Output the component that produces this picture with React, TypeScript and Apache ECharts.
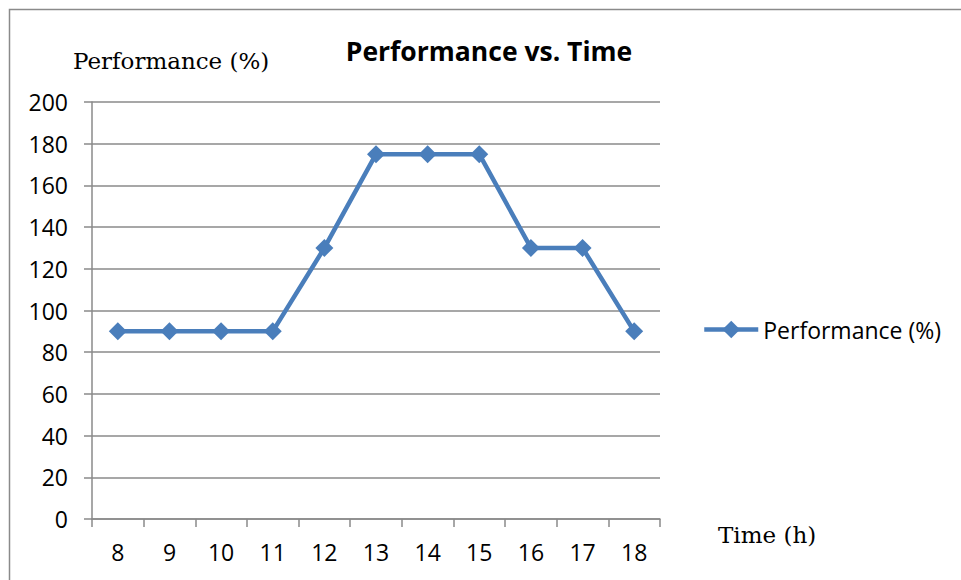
import React, { useEffect, useRef } from "react";
import * as echarts from "echarts";

const hours = ["8", "9", "10", "11", "12", "13", "14", "15", "16", "17", "18"];
const performance = [90, 90, 90, 90, 130, 175, 175, 175, 130, 130, 90];
const seriesName = "Performance (%)";
const chartTitle = "Performance vs. Time";
const yAxisTitle = "Performance (%)";
const xAxisTitle = "Time (h)";

const sans = "'Open Sans', Lato, sans-serif";
const serif = "'DejaVu Serif', 'Liberation Serif', serif";
const gridGray = "#8a8a8a";
const lineBlue = "#4a7ebb";

export default function App() {
  const ref = useRef<HTMLDivElement>(null);

  useEffect(() => {
    if (!ref.current) return;
    const chart = echarts.init(ref.current, null, { renderer: "svg" });
    chart.setOption({
      animation: false,
      backgroundColor: "#ffffff",
      title: {
        text: chartTitle,
        left: 484,
        textAlign: "center",
        top: 32,
        textStyle: { fontFamily: sans, fontSize: 26.5, fontWeight: "bold", color: "#000" },
      },
      legend: {
        data: [seriesName],
        left: 697,
        top: 313,
        itemWidth: 54,
        itemHeight: 22,
        lineStyle: { width: 4.5 },
        textStyle: { fontFamily: sans, fontSize: 23, color: "#000" },
      },
      grid: { left: 92, right: 301, top: 102, bottom: 61, containLabel: false },
      xAxis: {
        type: "category",
        data: hours,
        boundaryGap: true,
        axisLine: { lineStyle: { color: gridGray, width: 1.5 } },
        axisTick: { show: true, length: 8, interval: 0, lineStyle: { color: gridGray, width: 1.5 } },
        axisLabel: { margin: 21, fontFamily: sans, fontSize: 23, color: "#000", interval: 0 },
        splitLine: { show: false },
      },
      yAxis: {
        type: "value",
        min: 0,
        max: 200,
        interval: 20,
        axisLine: { show: true, lineStyle: { color: gridGray, width: 1.5 } },
        axisTick: { show: true, length: 8, lineStyle: { color: gridGray, width: 1.5 } },
        axisLabel: { margin: 24, fontFamily: sans, fontSize: 23, color: "#000" },
        splitLine: { show: true, lineStyle: { color: gridGray, width: 1.5 } },
      },
      graphic: [
        {
          type: "rect",
          shape: { x: 9.5, y: 9.5, width: 1000, height: 700 },
          style: { fill: "none", stroke: "#8a8a8a", lineWidth: 1.5 },
          silent: true,
        },
        {
          type: "text",
          left: 73,
          top: 49,
          style: { text: yAxisTitle, font: `23px ${serif}`, fill: "#000" },
        },
        {
          type: "text",
          left: 718,
          top: 523,
          style: { text: xAxisTitle, font: `23px ${serif}`, fill: "#000" },
        },
      ],
      series: [
        {
          name: seriesName,
          type: "line",
          data: performance,
          symbol: "diamond",
          symbolSize: 18,
          itemStyle: { color: lineBlue },
          lineStyle: { color: lineBlue, width: 4.5 },
        },
      ],
    });
    return () => chart.dispose();
  }, []);

  return (
    <div
      ref={ref}
      style={{ position: "fixed", left: 0, top: 0, width: 961, height: 580 }}
    />
  );
}
